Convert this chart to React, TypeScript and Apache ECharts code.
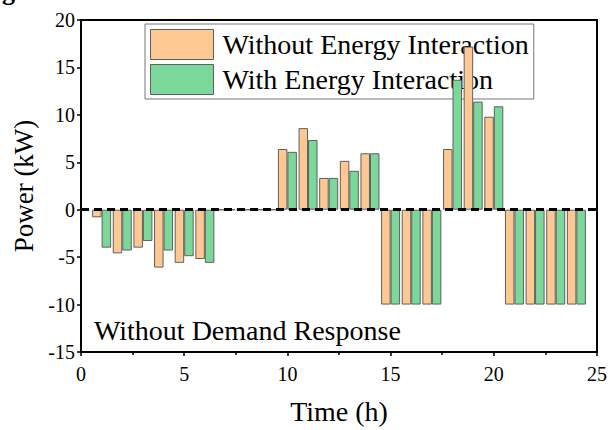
import React, { useEffect, useRef } from "react";
import * as echarts from "echarts";

const hours = [1, 2, 3, 4, 5, 6, 7, 8, 9, 10, 11, 12, 13, 14, 15, 16, 17, 18, 19, 20, 21, 22, 23, 24];
const withoutEI = [-0.8, -4.6, -4.0, -6.1, -5.6, -5.2, 0, 0, 0, 6.4, 8.6, 3.35, 5.15, 5.95, -10, -10, -10, 6.4, 17.2, 9.8, -10, -10, -10, -10];
const withEI = [-4.0, -4.3, -3.3, -4.3, -4.9, -5.6, 0, 0, 0, 6.1, 7.35, 3.35, 4.1, 5.95, -10, -10, -10, 13.7, 11.4, 10.9, -10, -10, -10, -10];
const xTicks = [0, 5, 10, 15, 20, 25];
const yTicks = [-15, -10, -5, 0, 5, 10, 15, 20];
const seriesNames = ["Without Energy Interaction", "With Energy Interaction"];
const annotation = "Without Demand Response";

const FONT = "'Liberation Serif', 'Times New Roman', serif";

export default function App() {
  const ref = useRef<HTMLDivElement>(null);
  useEffect(() => {
    if (!ref.current) return;
    const chart = echarts.init(ref.current, undefined, { renderer: "svg" });
    const barStyle = (color: string) => ({ color, borderColor: "#606060", borderWidth: 1 });
    chart.setOption({
      animation: false,
      backgroundColor: "#fff",
      textStyle: { fontFamily: FONT, color: "#000" },
      grid: { left: 81, right: 19, top: 20, bottom: 67, show: true, borderColor: "#000", borderWidth: 2, backgroundColor: "transparent" },
      legend: {
        orient: "vertical",
        left: 145,
        top: 24,
        z: 1,
        itemWidth: 63,
        itemHeight: 30,
        itemGap: 4,
        padding: [5, 5, 4, 5],
        borderColor: "#777",
        borderWidth: 1,
        backgroundColor: "#fff",
        icon: "rect",
        itemStyle: { borderColor: "#606060", borderWidth: 1 },
        textStyle: { fontFamily: FONT, fontSize: 28, lineHeight: 30, color: "#000", padding: [0, 0, 0, 4] },
        data: seriesNames,
      },
      xAxis: {
        type: "value",
        min: xTicks[0],
        max: xTicks[xTicks.length - 1],
        interval: 5,
        name: "Time (h)",
        nameLocation: "middle",
        nameGap: 45,
        nameTextStyle: { fontFamily: FONT, fontSize: 28, color: "#000" },
        axisLine: { show: true, onZero: false, lineStyle: { color: "#000", width: 2 } },
        axisTick: { show: true, inside: false, length: 4, lineStyle: { color: "#000", width: 1.5 } },
        minorTick: { show: true, splitNumber: 2, length: 3, lineStyle: { color: "#000", width: 1.5 } },
        axisLabel: { fontFamily: FONT, fontSize: 20, color: "#000", margin: 12 },
        splitLine: { show: false },
      },
      yAxis: {
        type: "value",
        min: yTicks[0],
        max: yTicks[yTicks.length - 1],
        interval: 5,
        name: "Power (kW)",
        nameLocation: "middle",
        nameGap: 39,
        nameTextStyle: { fontFamily: FONT, fontSize: 27, color: "#000" },
        axisLine: { show: true, onZero: false, lineStyle: { color: "#000", width: 2 } },
        axisTick: { show: true, inside: false, length: 4, lineStyle: { color: "#000", width: 1.5 } },
        axisLabel: { fontFamily: FONT, fontSize: 20, color: "#000", margin: 6 },
        splitLine: { show: false },
      },
      graphic: [
        { type: "text", left: 94, top: 316, z: 10, style: { text: annotation, font: `28px ${FONT}`, fill: "#000" } },
        { type: "text", left: 2, top: -22, z: 10, style: { text: "g", font: `bold 26px ${FONT}`, fill: "#000" } },
      ],
      series: [
        {
          name: seriesNames[0],
          type: "bar",
          z: 2,
          barWidth: 9.5,
          barGap: "0%",
          itemStyle: barStyle("#FDC892"),
          data: hours.map((h, i) => [h, withoutEI[i]]),
        },
        {
          name: seriesNames[1],
          type: "bar",
          z: 2,
          barWidth: 9.5,
          barGap: "0%",
          itemStyle: barStyle("#7BD89A"),
          data: hours.map((h, i) => [h, withEI[i]]),
          markLine: {
            silent: true,
            symbol: "none",
            z: 5,
            label: { show: false },
            lineStyle: { color: "#000", type: [8, 5], width: 3 },
            data: [{ yAxis: 0 }],
          },
        },
      ],
    });
    return () => chart.dispose();
  }, []);
  return <div ref={ref} style={{ position: "fixed", left: 0, top: 0, width: 616, height: 430 }} />;
}
